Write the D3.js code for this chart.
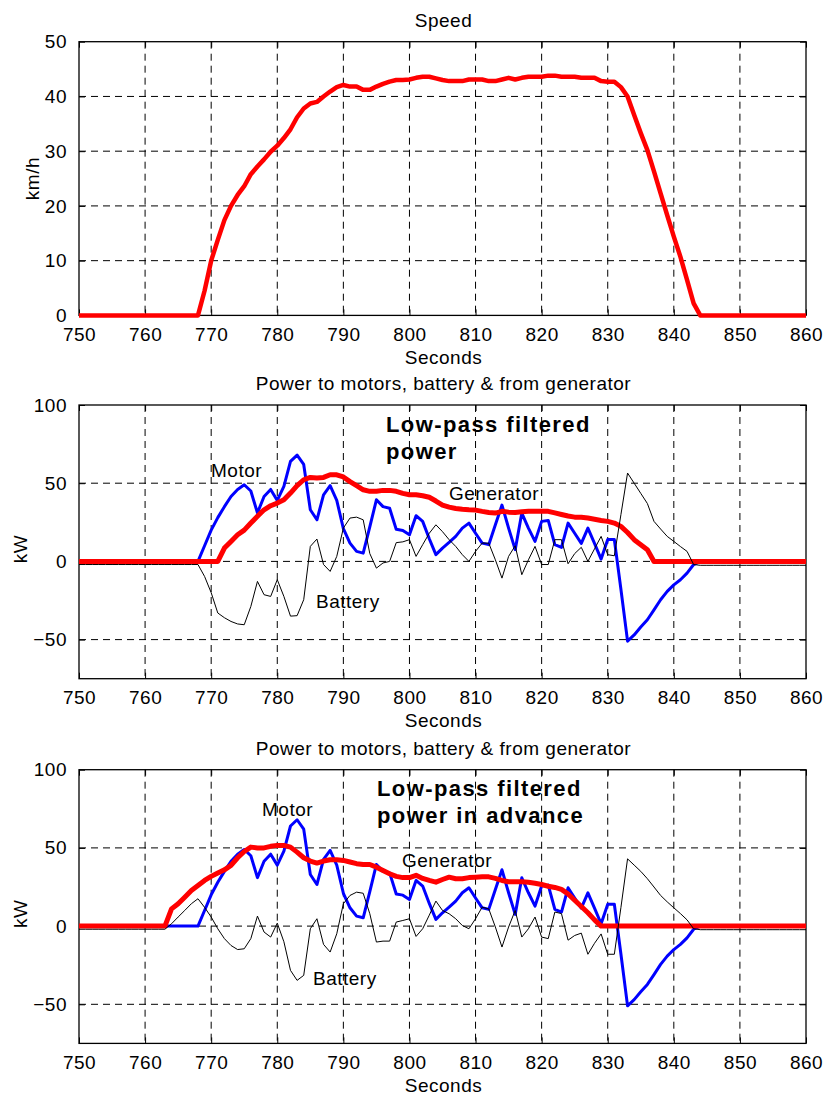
<!DOCTYPE html>
<html><head><meta charset="utf-8">
<script src="https://cdn.jsdelivr.net/npm/d3@7"></script>
<style>
body{margin:0;background:#fff}
svg text{font-family:Arial,"Liberation Sans",Helvetica,sans-serif;fill:#000}
</style>
</head><body>
<svg id="chart" width="825" height="1098"></svg>
<script>
// ---------- DATA ----------
const seconds = d3.range(750, 861); // 750 ... 860, one sample per second
const xTicks = [750, 760, 770, 780, 790, 800, 810, 820, 830, 840, 850, 860];
const speedTicks = [0, 10, 20, 30, 40, 50];
const powerTicks = [-50, 0, 50, 100];

const speed = [
  0,0,0,0,0,0,0,0,0,0,0,0,0,0,0,0,0,0,0,
  4.5,10,13.8,17.4,20,22,23.6,25.8,27.2,28.5,29.9,31,32.4,34,36.2,37.8,38.7,39,40,40.9,41.7,
  42.1,41.8,41.8,41.2,41.2,41.8,42.3,42.7,43,43,43.1,43.4,43.6,43.6,43.3,43,42.8,42.8,42.8,43.1,
  43.1,43.1,42.8,42.8,43.1,43.4,43.1,43.4,43.6,43.6,43.6,43.8,43.8,43.6,43.6,43.6,43.4,43.4,43.4,42.8,
  42.7,42.7,41.7,40,36.6,33.3,30.2,26.3,22.3,18.3,14.4,10.7,6.5,2.2,
  0,0,0,0,0,0,0,0,0,0,0,0,0,0,0,0,0
];

const motor = [
  0,0,0,0,0,0,0,0,0,0,0,0,0,0,0,0,0,0,0,
  10,20,28,35,41.5,46,49,45,31,41.5,46,39,48,64,68,62,33,26.6,42.6,48.4,39,
  21,11.7,6.4,5.3,22,39.4,35,34,20.5,19.8,17,29.2,25.6,14.5,4.3,8.5,12.1,16,21.3,24.5,
  18,11.7,10.7,23.4,36,21.3,7.5,30.9,21.3,12.8,25.6,26.2,10.7,9,24.5,18,11.5,21.3,11.5,1.5,
  14,14,-18,-51,-47,-42,-37.3,-31,-24.5,-19.2,-15,-11.7,-7.5,-2,
  0,0,0,0,0,0,0,0,0,0,0,0,0,0,0,0,0
];

const batteryFiltered = [
  -2,-2,-2,-2,-2,-2,-2,-2,-2,-2,-2,-2,-2,-2,-2,-2,-2,-2,-2,
  -9.6,-20,-33,-36,-38.4,-40,-40.5,-28.8,-12.8,-21.3,-22.4,-11.7,-22.4,-35,-34.7,-24.5,9.6,14.3,-2,-6.4,3.2,
  21.3,27.7,28.3,26.6,5,-4.3,-1,0,12,12.5,13.9,3.2,10.7,18,23.4,19,13.9,9.6,4.3,0,
  6.4,11.7,11.7,1,-10.7,3.2,10,-8.5,1,9.6,-2,-2,13.9,13.9,-1.5,5,9,0,8,16,
  4.3,3.6,30,56.5,50,43.5,37,25.6,20.7,16,12.8,9.5,6.4,-2,
  -2.5,-2.5,-2.5,-2.5,-2.5,-2.5,-2.5,-2.5,-2.5,-2.5,-2.5,-2.5,-2.5,-2.5,-2.5,-2.5,-2.5
];

const generatorFiltered = [
  0,0,0,0,0,0,0,0,0,0,0,0,0,0,0,0,0,0,0,
  0,0,0,8.5,12.8,17,20,24.5,28.8,33,35.6,37.3,39.4,43.7,48.4,52.2,53.7,53.3,53.7,55.4,55.4,
  54,51,48.4,45.8,44.8,44.8,45.4,45.4,44.8,43.5,42.6,42.6,42,41,38.6,36,34.7,33.8,33.3,33,
  32.8,32,31.3,30.9,32,31.5,31.3,31.8,32,32,32,32,31,30,29,28.3,28.2,27.7,27,26.2,
  25.6,24.5,22.4,18.5,13.9,10.7,7.5,0,0,0,0,0,0,0,
  0,0,0,0,0,0,0,0,0,0,0,0,0,0,0,0,0
];

const batteryAdvance = [
  -2,-2,-2,-2,-2,-2,-2,-2,-2,-2,-2,-2,-2,-2,
  1.5,5.8,10,14.3,17.5,
  12,5.8,-1.7,-8,-12.4,-15,-14.5,-8,6.4,-3.8,-7,1.9,-10,-28.3,-34.7,-31.5,-1.7,4.7,-11.7,-16.6,-4.9,
  14.3,19.6,21.7,21,7.9,-10.2,-9.6,-9.6,2.6,3.6,4.7,-6.6,-1.7,7,16,10,7.9,4.7,0.4,-1.7,
  4.7,12.1,11,-0.6,-13.4,-0.6,10,-7,-1.7,5.8,-7,-8,9,8,-9,-6,-4.5,-18,-11,-5,
  -18,-18,12,43,39,35,30.3,25,19.6,15.5,11.7,8,4,-1.7,
  -2.3,-2.3,-2.3,-2.3,-2.3,-2.3,-2.3,-2.3,-2.3,-2.3,-2.3,-2.3,-2.3,-2.3,-2.3,-2.3,-2.3
];

const generatorAdvance = [
  0,0,0,0,0,0,0,0,0,0,0,0,0,0,
  11,14.3,18.5,22.8,26,
  29.2,31.8,34,36,38.8,43.7,47.7,50.5,50,50,51,51.6,51.6,50.5,47.3,43.7,41.6,40.3,41.6,42.4,42.4,
  42,41,39.9,39.4,39.4,37.7,35.6,33.5,31.8,31,31,32.5,30.5,29.2,28.1,29.8,31.3,30.3,30.3,31,
  31.3,31.5,31.5,30.5,29.2,28.4,28.4,28.4,28,27.4,26.6,25.5,24.7,23.5,20.5,16.5,12.5,8.5,4,0,
  0,0,0,0,0,0,0,0,0,0,0,0,0,0,
  0,0,0,0,0,0,0,0,0,0,0,0,0,0,0,0,0
];

// ---------- LAYOUT ----------
const svg = d3.select("#chart");
const left = 79, right = 806, H = 273.7;
const x = d3.scaleLinear().domain([750, 860]).range([left, right]);
const FS = 19;

function panel(cfg) {
  const top = cfg.top, bottom = top + H;
  const y = d3.scaleLinear().domain(cfg.yDomain).range([bottom, top]);
  const g = svg.append("g");

  // grid
  const grid = g.append("g").attr("stroke", "#000").attr("stroke-width", 1)
    .attr("stroke-dasharray", "7,5").attr("fill", "none");
  xTicks.slice(1, -1).forEach(t => grid.append("line")
    .attr("x1", x(t)).attr("x2", x(t)).attr("y1", top).attr("y2", bottom));
  cfg.yTicks.forEach(v => { if (y(v) > top + 1 && y(v) < bottom - 1) grid.append("line")
    .attr("x1", left).attr("x2", right).attr("y1", y(v)).attr("y2", y(v)); });

  // axes via d3 (ticks inward, bottom & left labels)
  const xa = d3.axisBottom(x).tickValues(xTicks).tickSize(-6).tickPadding(12).tickFormat(d3.format("d"));
  const xTop = d3.axisTop(x).tickValues(xTicks).tickSize(-6).tickFormat("");
  const ya = d3.axisLeft(y).tickValues(cfg.yTicks).tickSize(-6).tickPadding(12).tickFormat(d3.format("d"));
  const yRight = d3.axisRight(y).tickValues(cfg.yTicks).tickSize(-6).tickFormat("");
  [ [xa, `translate(0,${bottom})`], [xTop, `translate(0,${top})`],
    [ya, `translate(${left},0)`], [yRight, `translate(${right},0)`] ].forEach(([ax, tr]) => {
    const a = g.append("g").attr("transform", tr).call(ax);
    a.select(".domain").remove();
    a.selectAll(".tick line").attr("stroke", "#000").attr("stroke-width", 1);
    a.selectAll("text").attr("font-size", FS).attr("font-family", "Arial, 'Liberation Sans', sans-serif")
      .attr("fill", "#000");
  });
  g.selectAll("text").style("letter-spacing", "0.5px");

  // frame
  g.append("rect").attr("x", left).attr("y", top).attr("width", right - left).attr("height", H)
    .attr("fill", "none").attr("stroke", "#000").attr("stroke-width", 1.3);

  // series
  cfg.series.forEach(s => {
    const line = d3.line().x((d, i) => x(seconds[i])).y(d => y(d));
    g.append("path").datum(s.values).attr("d", line).attr("fill", "none")
      .attr("stroke", s.color).attr("stroke-width", s.width)
      .attr("stroke-linejoin", "round").attr("stroke-linecap", "butt");
  });

  // titles & labels
  g.append("text").attr("x", (left + right) / 2 + 1).attr("y", top - 21.5).attr("dy", "0.35em")
    .attr("text-anchor", "middle").attr("font-size", FS).style("letter-spacing", "0.5px").text(cfg.title);
  g.append("text").attr("x", (left + right) / 2 + 1).attr("y", bottom + 42).attr("dy", "0.35em")
    .attr("text-anchor", "middle").attr("font-size", FS).style("letter-spacing", "0.5px").text("Seconds");
  g.append("text").attr("transform", `translate(${cfg.ylabX},${top + cfg.ylabDy}) rotate(-90)`)
    .attr("dy", "0.35em").attr("text-anchor", "middle").attr("font-size", FS)
    .style("letter-spacing", "0.5px").text(cfg.ylabel);

  (cfg.notes || []).forEach(n => {
    const t = g.append("text").attr("x", n.x).attr("y", n.y).attr("font-size", n.bold ? 22 : FS)
      .attr("font-weight", n.bold ? "bold" : "normal")
      .style("letter-spacing", n.bold ? "1.4px" : "0.5px");
    n.lines.forEach((l, i) => t.append("tspan").attr("x", n.x).attr("y", n.y + i * 27.3).text(l));
  });
}

panel({
  top: 41.7, yDomain: [0, 50], yTicks: speedTicks, title: "Speed",
  ylabel: "km/h", ylabX: 32, ylabDy: H / 2,
  series: [{ values: speed, color: "#ff0000", width: 4.5 }]
});

panel({
  top: 405, yDomain: [-75, 100], yTicks: powerTicks,
  title: "Power to motors, battery & from generator",
  ylabel: "kW", ylabX: 20, ylabDy: 144,
  series: [
    { values: motor, color: "#0000ff", width: 3 },
    { values: generatorFiltered, color: "#ff0000", width: 5 },
    { values: batteryFiltered, color: "#000", width: 1 }
  ],
  notes: [
    { x: 386, y: 432, bold: true, lines: ["Low-pass filtered", "power"] },
    { x: 211, y: 477, lines: ["Motor"] },
    { x: 449, y: 500, lines: ["Generator"] },
    { x: 316, y: 607.5, lines: ["Battery"] }
  ]
});

panel({
  top: 769.7, yDomain: [-75, 100], yTicks: powerTicks,
  title: "Power to motors, battery & from generator",
  ylabel: "kW", ylabX: 20, ylabDy: 144,
  series: [
    { values: motor, color: "#0000ff", width: 3 },
    { values: generatorAdvance, color: "#ff0000", width: 5 },
    { values: batteryAdvance, color: "#000", width: 1 }
  ],
  notes: [
    { x: 377, y: 796, bold: true, lines: ["Low-pass filtered", "power in advance"] },
    { x: 262, y: 816, lines: ["Motor"] },
    { x: 402, y: 867, lines: ["Generator"] },
    { x: 313, y: 985, lines: ["Battery"] }
  ]
});
</script>
</body></html>
